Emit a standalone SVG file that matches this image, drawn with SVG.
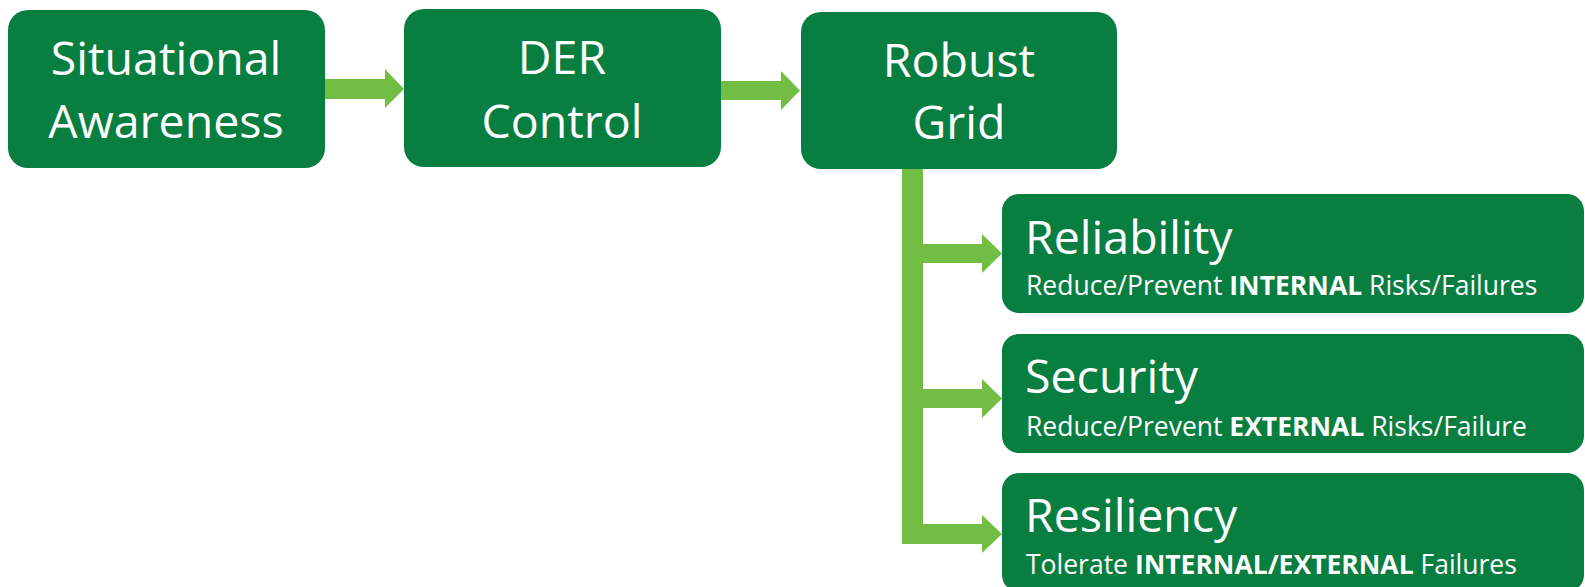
<svg xmlns="http://www.w3.org/2000/svg" width="1585" height="587" viewBox="0 0 1585 587">
<style>
.box{fill:#087E40}
.arr{fill:#72BE45}
.t{font-family:"Open Sans","Noto Sans","Liberation Sans",sans-serif;fill:#FFFFFF}
.big{font-size:46.5px}
.c{text-anchor:middle}
.sub{font-size:26.5px}
.b{font-weight:700}
</style>
<rect width="1585" height="587" fill="#FFFFFF"/>
<g id="connectors">
<polygon class="arr" points="325,79 385,79 385,69 404,89 385,108 385,99 325,99"/>
<polygon class="arr" points="721,81 781,81 781,71 800,90.5 781,110 781,100 721,100"/>
<rect class="arr" x="902" y="169" width="21" height="375"/>
<polygon class="arr" points="923,244 982,244 982,234 1002,253.5 982,273 982,263 923,263"/>
<polygon class="arr" points="923,389 982,389 982,379 1002,398.5 982,418 982,408 923,408"/>
<polygon class="arr" points="923,524 982,524 982,515 1002,534 982,553 982,544 923,544"/>
</g>
<g id="situational-awareness">
<rect class="box" x="8" y="10" width="317" height="158" rx="20"/>
<text class="t big c" x="166" y="75">Situational</text>
<text class="t big c" x="166" y="138">Awareness</text>
</g>
<g id="der-control">
<rect class="box" x="404" y="9" width="317" height="158" rx="20"/>
<text class="t big c" x="562" y="74">DER</text>
<text class="t big c" x="562" y="138">Control</text>
</g>
<g id="robust-grid">
<rect class="box" x="801" y="12" width="316" height="157" rx="20"/>
<text class="t big c" x="959" y="77">Robust</text>
<text class="t big c" x="959" y="139">Grid</text>
</g>
<g id="reliability">
<rect class="box" x="1002" y="194" width="582" height="119" rx="17"/>
<text class="t big" x="1025" y="254">Reliability</text>
<text class="t sub" x="1026" y="295">Reduce/Prevent <tspan class="b">INTERNAL</tspan> Risks/Failures</text>
</g>
<g id="security">
<rect class="box" x="1002" y="334" width="582" height="119" rx="17"/>
<text class="t big" x="1025" y="393">Security</text>
<text class="t sub" x="1026" y="436">Reduce/Prevent <tspan class="b">EXTERNAL</tspan> Risks/Failure</text>
</g>
<g id="resiliency">
<rect class="box" x="1002" y="473" width="582" height="119" rx="17"/>
<text class="t big" x="1025" y="532">Resiliency</text>
<text class="t sub" x="1026" y="574">Tolerate <tspan class="b">INTERNAL/EXTERNAL</tspan> Failures</text>
</g>
</svg>
